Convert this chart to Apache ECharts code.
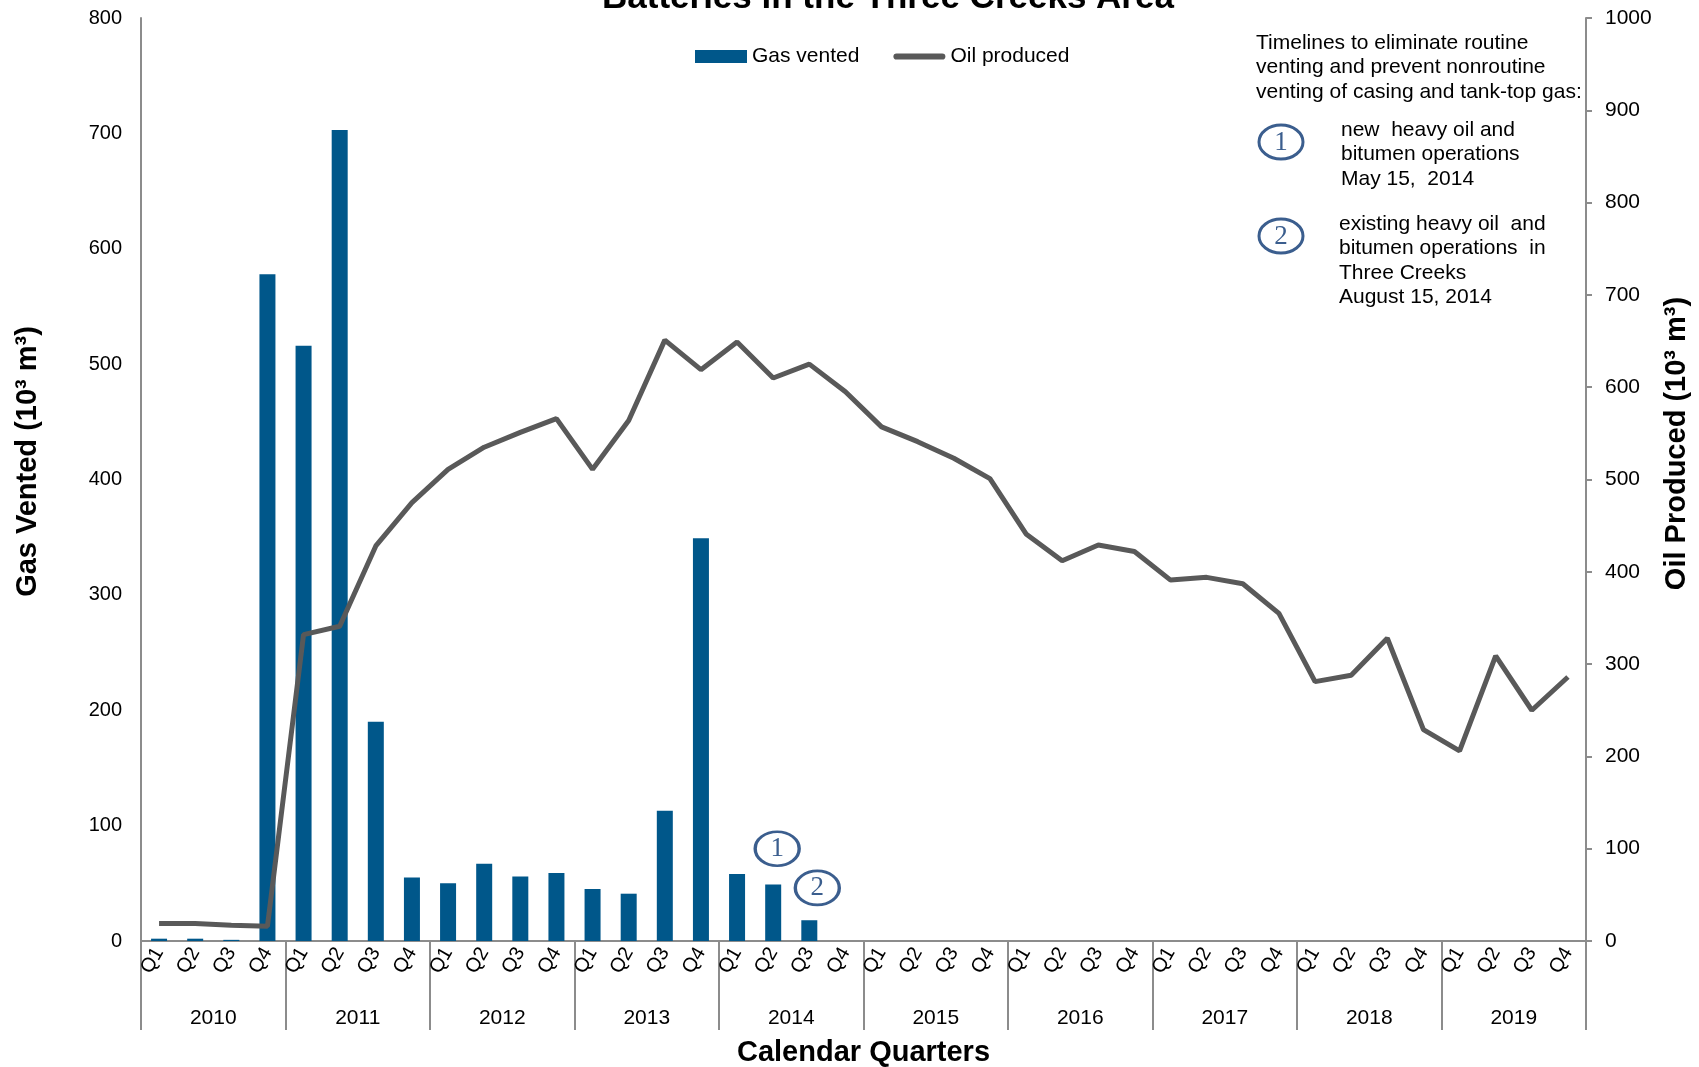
<!DOCTYPE html>
<html>
<head>
<meta charset="utf-8">
<title>Three Creeks</title>
<script src="https://cdn.jsdelivr.net/npm/echarts@6/dist/echarts.min.js"></script>
<style>
  html, body { margin: 0; padding: 0; background: #fff; }
  #chart { width: 1699px; height: 1067px; }
</style>
</head>
<body>
<div id="chart"></div>
<script>
// years and quarters on the x axis
var years = ['2010', '2011', '2012', '2013', '2014', '2015', '2016', '2017', '2018', '2019'];
var quarters = ['Q1', 'Q2', 'Q3', 'Q4'];

// gas vented (10^3 m3), left axis
var gasVented = [2, 2, 1, 578, 516, 703, 190, 55, 50, 67, 56, 59, 45, 41, 113, 349, 58, 49, 18,
    null, null, null, null, null, null, null, null, null, null, null, null, null, null, null, null,
    null, null, null, null, null];
// oil produced (10^3 m3), right axis
var oilProduced = [19, 19, 17, 16, 332, 341, 428, 475, 511, 535, 551, 566, 511, 564, 651, 619,
    649, 610, 625, 595, 557, 541, 523, 501, 441, 412, 429, 422, 391, 394, 387, 355,
    281, 288, 328, 229, 206, 309, 250, 286];

var leftTicks = [0, 100, 200, 300, 400, 500, 600, 700, 800];
var rightTicks = [0, 100, 200, 300, 400, 500, 600, 700, 800, 900, 1000];

var noteLines = ['Timelines to eliminate routine', 'venting and prevent nonroutine',
    'venting of casing and tank-top gas:'];
var note1 = ['new  heavy oil and', 'bitumen operations', 'May 15,  2014'];
var note2 = ['existing heavy oil  and', 'bitumen operations  in', 'Three Creeks', 'August 15, 2014'];

var categories = [];
years.forEach(function (y) {
    quarters.forEach(function (q) { categories.push(y + ' ' + q); });
});

var font = 'Liberation Sans, Arial, sans-serif';
var serif = 'Liberation Serif, Times New Roman, serif';
var axisGray = '#8c8c8c';
var circleColor = '#3b5e8e';
var ellipse = 'path://M0 50 A50 50 0 1 1 100 50 A50 50 0 1 1 0 50 Z';
var lineIcon = 'path://M3 0 H47 A3 3 0 0 1 47 6 H3 A3 3 0 0 1 3 0 Z';

var myChart = echarts.init(document.getElementById('chart'));

//注释文字
var graphics = [];
function addLines(lines, x, y0) {
    lines.forEach(function (t, i) {
        graphics.push({ type: 'text', x: x, y: y0 + i * 24.5,
            style: { text: t, font: '21px ' + font, fill: '#000', verticalAlign: 'middle' } });
    });
}
addLines(noteLines, 1256, 43);
addLines(note1, 1341, 130);
addLines(note2, 1339, 224);
[['1', 142], ['2', 236]].forEach(function (c) {
    graphics.push({ type: 'ellipse', shape: { cx: 1281, cy: c[1], rx: 22, ry: 17 },
        style: { fill: 'none', stroke: circleColor, lineWidth: 3 } });
    graphics.push({ type: 'text', x: 1281, y: c[1] + 1,
        style: { text: c[0], font: '27px ' + serif, fill: circleColor,
            align: 'center', verticalAlign: 'middle' } });
});

var option = {
    animation: false,
    textStyle: { fontFamily: font },
    title: {
        text: 'Batteries in the Three Creeks Area',
        left: 597, top: -24,
        textStyle: { fontSize: 35, fontWeight: 'bold', color: '#000', fontFamily: font }
    },
    legend: {
        left: 695, top: 46, padding: 0,
        itemWidth: 52, itemHeight: 13, itemGap: 34,
        textStyle: { fontSize: 21, color: '#000', fontFamily: font },
        data: [
            { name: 'Gas vented', icon: 'rect' },
            { name: 'Oil produced', icon: lineIcon }
        ]
    },
    grid: { left: 141, right: 113, top: 18, bottom: 126, outerBoundsMode: 'none', containLabel: false },
    xAxis: [
        {
            type: 'category', data: categories, position: 'bottom',
            axisLine: { lineStyle: { color: axisGray, width: 2 } },
            axisTick: { show: false },
            axisLabel: {
                interval: 0, rotate: 60, margin: 8, fontSize: 20, color: '#000',
                formatter: function (v) { return v.split(' ')[1]; }
            }
        },
        {
            type: 'category', data: years, position: 'bottom',
            name: 'Calendar Quarters', nameLocation: 'middle', nameGap: 97,
            nameTextStyle: { fontSize: 29, fontWeight: 'bold', color: '#000' },
            axisLine: { show: false },
            axisTick: { show: true, length: 89, interval: 0, lineStyle: { color: axisGray, width: 2 } },
            axisLabel: { interval: 0, margin: 67, fontSize: 21, color: '#000' }
        }
    ],
    yAxis: [
        {
            type: 'value', min: 0, max: 800, interval: 100, position: 'left',
            name: 'Gas Vented (10³ m³)', nameLocation: 'middle', nameRotate: 90, nameGap: 99,
            nameTextStyle: { fontSize: 29, fontWeight: 'bold', color: '#000', padding: [0, 0, 0, 36] },
            axisLine: { show: true, lineStyle: { color: axisGray, width: 2 } },
            axisTick: { show: false },
            splitLine: { show: false },
            axisLabel: { margin: 19, fontSize: 20, color: '#000',
                formatter: function (v) { return leftTicks.indexOf(v) >= 0 ? String(v) : ''; } }
        },
        {
            type: 'value', min: 0, max: 1000, interval: 100, position: 'right',
            name: 'Oil Produced (10³ m³)', nameLocation: 'middle', nameRotate: 90, nameGap: 76,
            nameTextStyle: { fontSize: 29, fontWeight: 'bold', color: '#000', padding: [0, 0, 0, 72] },
            axisLine: { show: true, lineStyle: { color: axisGray, width: 2 } },
            axisTick: { show: true, length: 6, lineStyle: { color: axisGray, width: 2 } },
            splitLine: { show: false },
            axisLabel: { margin: 19, fontSize: 21, color: '#000',
                formatter: function (v) { return rightTicks.indexOf(v) >= 0 ? String(v) : ''; } }
        }
    ],
    series: [
        {
            name: 'Gas vented', type: 'bar', data: gasVented, yAxisIndex: 0,
            barWidth: 16, itemStyle: { color: '#00578a' },
            markPoint: {
                symbol: ellipse, symbolSize: [44, 34],
                itemStyle: { color: '#fff', borderColor: circleColor, borderWidth: 3 },
                label: { show: true, formatter: '{b}', color: circleColor, fontSize: 27, fontFamily: serif },
                data: [
                    { name: '1', coord: [17, 80], symbolOffset: [4, 0] },
                    { name: '2', coord: [18, 46], symbolOffset: [8, 0] }
                ]
            }
        },
        {
            name: 'Oil produced', type: 'line', data: oilProduced, yAxisIndex: 1,
            symbol: 'none', z: 3,
            lineStyle: { color: '#595959', width: 5 },
            itemStyle: { color: '#595959' }
        }
    ],
    graphic: graphics
};

myChart.setOption(option);
</script>
</body>
</html>
